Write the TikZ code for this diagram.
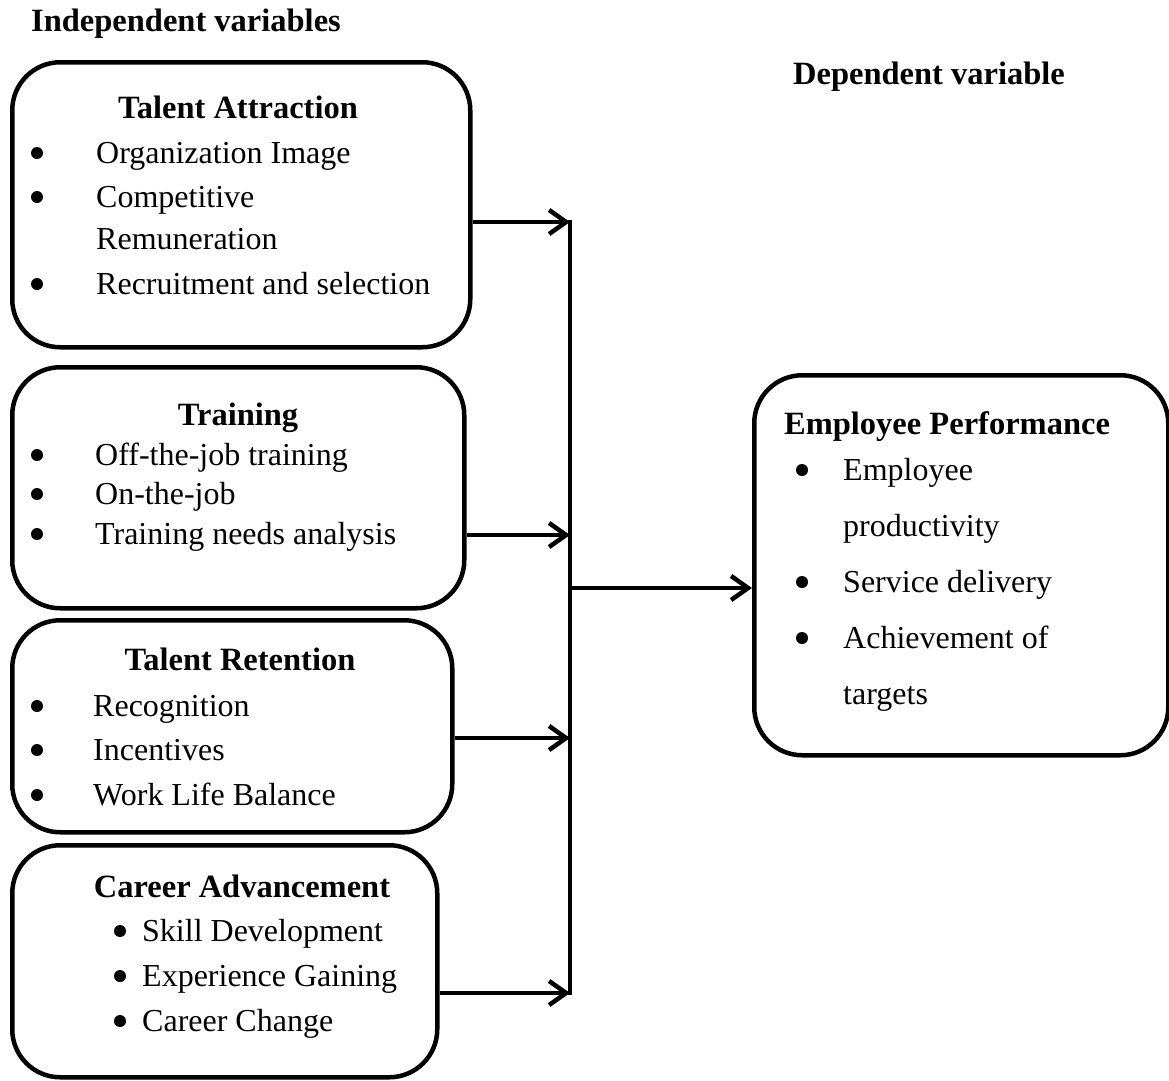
\documentclass[tikz,border=0pt]{standalone}
\usepackage{fontspec}
\setmainfont{Liberation Serif}
\usetikzlibrary{arrows.meta}
\begin{document}
\begin{tikzpicture}[x=1pt,y=-1pt,
  box/.style={draw, line width=4.5pt, rounded corners=48pt, anchor=north west, inner sep=0pt},
  arr/.style={line width=4.5pt, -{Straight Barb[length=17pt,width=24pt,line width=4.5pt]}},
  bus/.style={line width=4.5pt},
  head/.style={font=\fontsize{32.5}{38}\selectfont\bfseries, inner sep=0pt, anchor=base},
  item/.style={font=\fontsize{32}{38}\selectfont, inner sep=0pt, anchor=base west},
  blt/.style={circle, fill, inner sep=0pt, minimum size=12pt, yshift=10pt}]
\useasboundingbox (0,0) rectangle (1169,1080);
% headings
\node[head] (hind) at (186,31) {Independent variables};
\node[head] (hdep) at (929,84) {Dependent variable};
% boxes
\node[box, minimum width=458pt, minimum height=285pt] (ta) at (10,60) {};
\node[box, minimum width=452pt, minimum height=241pt] (tr) at (10,365) {};
\node[box, minimum width=440pt, minimum height=212pt] (rt) at (10,618) {};
\node[box, minimum width=425pt, minimum height=232pt] (ca) at (10,843) {};
\node[box, minimum width=414pt, minimum height=380pt] (ep) at (752,373) {};
% Talent Attraction
\node[head] (tah) at (238,118) {Talent Attraction};
\node[blt] (tab1) at (37,163) {}; \node[item] (tai1) at (96,163) {Organization Image};
\node[blt] (tab2) at (37,207) {}; \node[item] (tai2) at (96,207) {Competitive};
\node[item] (tai3) at (96,249) {Remuneration};
\node[blt] (tab4) at (37,294) {}; \node[item] (tai4) at (96,294) {Recruitment and selection};
% Training
\node[head] (trh) at (238,425) {Training};
\node[blt] (trb1) at (37,465) {}; \node[item] (tri1) at (95,465) {Off-the-job training};
\node[blt] (trb2) at (37,504) {}; \node[item] (tri2) at (95,504) {On-the-job};
\node[blt] (trb3) at (37,544) {}; \node[item] (tri3) at (95,544) {Training needs analysis};
% Talent Retention
\node[head] (rth) at (240,670) {Talent Retention};
\node[blt] (rtb1) at (37,716) {}; \node[item] (rti1) at (93,716) {Recognition};
\node[blt] (rtb2) at (37,760) {}; \node[item] (rti2) at (93,760) {Incentives};
\node[blt] (rtb3) at (37,805) {}; \node[item] (rti3) at (93,805) {Work Life Balance};
% Career Advancement
\node[head] (cah) at (242,897) {Career Advancement};
\node[blt] (cab1) at (120,941) {}; \node[item] (cai1) at (142,941) {Skill Development};
\node[blt] (cab2) at (120,986) {}; \node[item] (cai2) at (142,986) {Experience Gaining};
\node[blt] (cab3) at (120,1031) {}; \node[item] (cai3) at (142,1031) {Career Change};
% Employee Performance
\node[head] (eph) at (947,434) {Employee Performance};
\node[blt] (epb1) at (802,480) {}; \node[item] (epi1) at (843,480) {Employee};
\node[item] (epi2) at (843,536) {productivity};
\node[blt] (epb3) at (802,592) {}; \node[item] (epi3) at (843,592) {Service delivery};
\node[blt] (epb4) at (802,648) {}; \node[item] (epi4) at (843,648) {Achievement of};
\node[item] (epi5) at (843,704) {targets};
% connectors
\coordinate (j1) at (570,222);
\coordinate (j2) at (570,535);
\coordinate (j3) at (570,738);
\coordinate (j4) at (570,993);
\coordinate (jm) at (570,588);
\draw[bus] ([yshift=2pt]j1) -- ([yshift=-2pt]j4);
\draw[arr] (ta.east |- j1) -- (j1);
\draw[arr] (tr.east |- j2) -- (j2);
\draw[arr] (rt.east |- j3) -- (j3);
\draw[arr] (ca.east |- j4) -- (j4);
\draw[arr] (jm) -- (ep.west |- jm);
\end{tikzpicture}
\end{document}
